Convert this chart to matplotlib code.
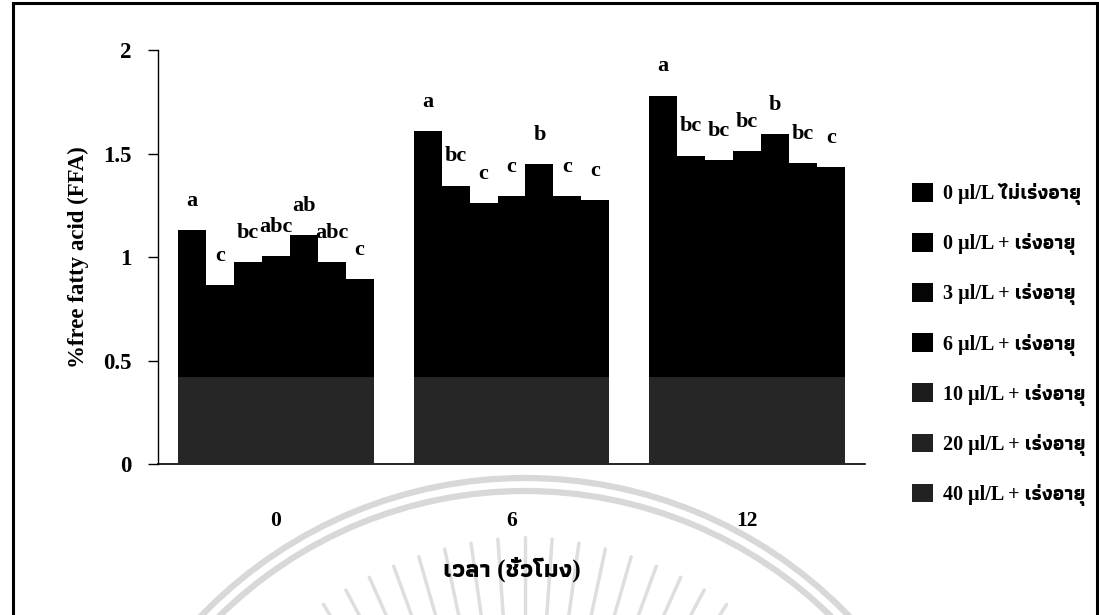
import matplotlib.pyplot as plt
import numpy as np
from matplotlib.patches import Patch, Rectangle, Arc

# ---- data -------------------------------------------------------------
times = ["0", "6", "12"]
series = [
    "0 µl/L ไม่เร่งอายุ",
    "0 µl/L + เร่งอายุ",
    "3 µl/L + เร่งอายุ",
    "6 µl/L + เร่งอายุ",
    "10 µl/L + เร่งอายุ",
    "20 µl/L + เร่งอายุ",
    "40 µl/L + เร่งอายุ",
]
ffa_0h = [1.13, 0.865, 0.975, 1.005, 1.105, 0.975, 0.895]
ffa_6h = [1.61, 1.345, 1.26, 1.295, 1.45, 1.295, 1.275]
ffa_12h = [1.78, 1.49, 1.47, 1.51, 1.595, 1.455, 1.435]
letters_0h = ["a", "c", "bc", "abc", "ab", "abc", "c"]
letters_6h = ["a", "bc", "c", "c", "b", "c", "c"]
letters_12h = ["a", "bc", "bc", "bc", "b", "bc", "c"]
legend_colors = ["#000000", "#000000", "#050505", "#000000", "#1c1c1c", "#222222", "#222222"]

# lower band of the scanned bars is slightly lighter
SCAN_BAND = 0.42

values = np.array([ffa_0h, ffa_6h, ffa_12h])
letters = [letters_0h, letters_6h, letters_12h]

plt.rcParams["font.family"] = ["Liberation Serif", "Athiti", "Noto Sans Thai", "DejaVu Sans"]
plt.rcParams["font.weight"] = "bold"

fig = plt.figure(figsize=(10.99, 6.15), dpi=100)

# faint watermark of the scanned page (pixel coordinates)
bg = fig.add_axes([0, 0, 1, 1], zorder=-5)
bg.set_xlim(0, 1099)
bg.set_ylim(615, 0)
bg.axis("off")
for r in (449, 436):
    bg.add_patch(Arc((525, 927), 2 * r, 2 * r, theta1=0, theta2=360,
                     color="#d8d8d8", lw=4.5))
for ang in np.arange(-36, 37, 4.0):
    t = np.deg2rad(ang)
    r1 = 390 - abs(ang) * 0.3
    bg.plot([525 + 260 * np.sin(t), 525 + r1 * np.sin(t)],
            [927 - 260 * np.cos(t), 927 - r1 * np.cos(t)],
            color="#dedede", lw=2.5, solid_capstyle="round")

ax = fig.add_axes([0.1438, 0.2455, 0.6432, 0.6732])
ax.patch.set_visible(False)

n = len(series)
group_w = 0.83
bw = group_w / n
x = np.arange(len(times))

for i in range(n):
    xs = x + (i - (n - 1) / 2) * bw
    vals = values[:, i]
    ax.bar(xs, vals, width=bw, color="black", linewidth=0, zorder=2)
    ax.bar(xs, np.minimum(vals, SCAN_BAND), width=bw, color="#262626",
           linewidth=0, zorder=3)
    for xi, v, lab in zip(xs, vals, [l[i] for l in letters]):
        ax.annotate(lab, xy=(xi, v), xytext=(0, 21), textcoords="offset points",
                    ha="center", va="center", fontsize=16, fontweight="bold")

ax.set_xlim(-0.5, 2.5)
ax.set_ylim(0, 2)
ax.set_yticks([0, 0.5, 1, 1.5, 2])
ax.set_yticklabels(["0", "0.5", "1", "1.5", "2"])
ax.set_xticks(x)
ax.set_xticklabels(times)
ax.tick_params(axis="y", direction="out", length=7, width=1, pad=12, labelsize=16.5)
ax.tick_params(axis="x", length=0, pad=34, labelsize=15.5)
for s in ["top", "right"]:
    ax.spines[s].set_visible(False)
ax.spines["left"].set_linewidth(1)
ax.spines["bottom"].set_linewidth(1.2)

ax.set_ylabel("%free fatty acid (FFA)", fontsize=16.5, fontweight="bold", labelpad=10)
ax.set_xlabel("เวลา (ชั่วโมง)", fontsize=18, fontweight="bold", labelpad=18)

handles = [Patch(facecolor=c, edgecolor="none") for c in legend_colors]
fig.legend(handles, series, loc="center left", bbox_to_anchor=(0.813, 0.44),
           frameon=False, handlelength=1.05, handleheight=1.05,
           handletextpad=0.5, labelspacing=1.385, prop={"weight": "bold", "size": 14.5})

# scanned page frame
fig.add_artist(Rectangle((0.012, -0.05), 0.986, 1.045, transform=fig.transFigure,
                         fill=False, edgecolor="black", linewidth=2.2))

fig.savefig("out.png", dpi=100)
